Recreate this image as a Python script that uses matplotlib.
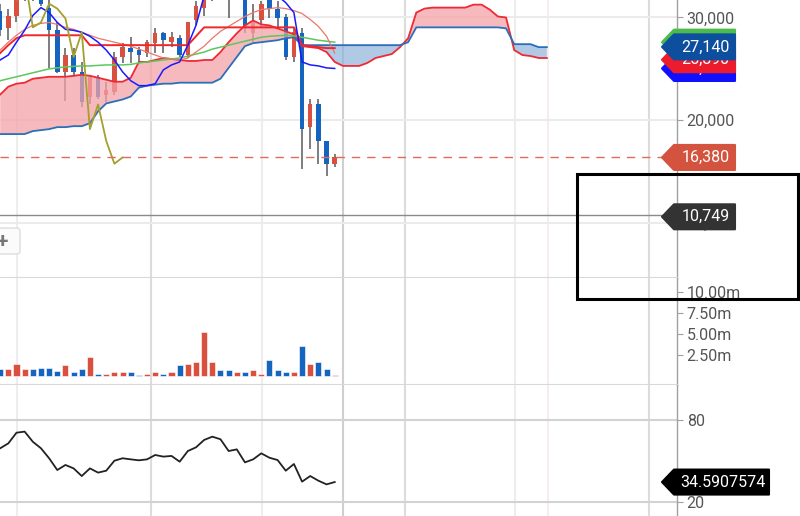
import numpy as np
import matplotlib
matplotlib.use('Agg')
import matplotlib.pyplot as plt
from matplotlib.patches import Polygon, Rectangle, FancyBboxPatch
from matplotlib.transforms import IdentityTransform

plt.rcParams['font.family'] = ['Roboto', 'DejaVu Sans']

# ---- candles (daily) ----
opens = [30673, 28943, 30193, 31923, 33558, 32404, 30962, 28750, 24712, 26347,
         24712, 22308, 24231, 22501, 22789, 26154, 27020, 26827, 26539, 27501,
         28462, 27597, 27981, 26347, 29712, 30962, 32116, 33558, 32789, 32597,
         31923, 28462, 29712, 32116, 30866, 30000, 26154, 28462, 19328, 21539,
         17982, 15770]
highs = [31347, 30866, 32404, 33558, 34039, 33077, 32116, 29520, 27020, 27020,
         25674, 24424, 24424, 23751, 26635, 27501, 28077, 27116, 27789, 28943,
         28558, 28558, 28270, 29520, 31635, 32404, 34039, 34039, 33077, 34328,
         32116, 31347, 31635, 32404, 31635, 30385, 28943, 28943, 22020, 22020,
         17982, 16732]
lows = [28174, 27789, 29520, 31635, 31635, 31154, 25097, 24616, 21828, 24231,
        21251, 21539, 22020, 21732, 22501, 25578, 25578, 25674, 26154, 26539,
        26539, 27116, 26154, 26058, 29231, 30193, 31635, 31923, 29904, 32116,
        28462, 27597, 29039, 29904, 28943, 25866, 25674, 15289, 17212, 15770,
        14616, 15482]
closes = [28750, 30193, 32116, 33077, 32116, 31347, 28750, 24712, 26347, 24712,
          21732, 24231, 22308, 22981, 26154, 27116, 26635, 26347, 27597, 28462,
          27789, 28077, 26347, 29520, 31154, 32116, 33558, 32404, 31731, 34039,
          29039, 29520, 31347, 30866, 29904, 26154, 28558, 19135, 21539, 17982,
          15770, 16380]
volume = [0.87, 0.87, 1.43, 0.87, 0.87, 1.0, 1.0, 0.63, 1.27, 0.48,
          0.87, 2.22, 0.24, 0.24, 0.44, 0.44, 0.44, 0.08, 0.24, 0.44,
          0.24, 0.44, 1.27, 1.43, 1.67, 5.2, 1.67, 0.67, 0.67, 0.44,
          0.44, 0.67, 0.24, 1.87, 0.67, 0.44, 0.44, 3.6, 1.43, 1.67,
          0.87, 0.08]  # millions

# ---- indicators ----
tenkan = [25866, 26347, 27597, 28750, 30193, 30962, 30481, 29520, 28847, 28750,
          28558, 28174, 27597, 26827, 25866, 24712, 23847, 23366, 23366, 23558,
          24904, 25385, 25674, 27308, 29231, 32116, 33077, 33558, 33558, 33558,
          33558, 33077, 33077, 32597, 32116, 31443, 30481, 25674, 25385, 25289,
          25097, 25040]
kijun = [26539, 27308, 27981] + [28270] * 8 + [27308] * 13 + [28174] + [29039] * 12 + \
        [27308, 27212, 27116, 27020, 27020]
ma_short = [26827, 27597, 28270, 28847, 29231, 29424, 29520, 29327, 29039, 28847,
            28558, 28270, 27981, 27789, 27597, 27404, 27212, 26924, 26635, 26347,
            26058, 25962, 25866, 26058, 26635, 27212, 27981, 28654, 29135, 29616,
            30097, 30481, 30770, 30866, 30962, 30866, 30673, 30385, 29808, 29135,
            28174, 26539]
ma_long = [23847, 24039, 24231, 24424, 24616, 24808, 25001, 25097, 25193, 25241,
           25289, 25289, 25337, 25385, 25385, 25385, 25433, 25578, 25674, 25770,
           25866, 25962, 26058, 26250, 26443, 26635, 26924, 27116, 27308, 27501,
           27693, 27885, 28077, 28174, 28222, 28270, 28222, 28077, 27933, 27789,
           27693, 27597]
span_a = [22501, 23270, 23558, 23655, 24039, 24135, 24231, 24231, 24231, 24328,
          24424, 24328, 24135, 23943, 23751, 23751, 24135, 25674, 25674, 25866,
          26058, 25962, 25866, 25770, 25770, 25866, 25866, 26635, 27597, 28462,
          29231, 29712, 29327, 29231, 28943, 28654, 28366, 27212, 27116, 27020,
          26635, 25674, 25289, 25289, 25289, 25578, 26058, 26251, 26443, 27116,
          27981, 30481, 30866, 30962, 30962, 30962, 30962, 30962, 31250, 31250,
          30770, 30097, 30000, 26827, 26347, 26251, 26058, 26058]
span_b = [18655] * 4 + [18943, 19039, 19135, 19328, 19328, 19424, 19424, 19712,
          20866, 21635, 21828, 22020, 22308, 23174, 23366, 23462, 23558, 23558] + \
         [23655] * 5 + [24039, 25097, 26154, 27212, 27501, 27597, 27693, 27789,
          27981, 28077] + [27308] * 13 + [27597] + [29039] * 11 + [28943] + \
         [27404] * 3 + [27116] * 2
osc = [59.3, 62.9, 70.7, 71.5, 64.1, 59.3, 52.0, 43.4, 47.1, 44.6,
       39.0, 44.6, 41.5, 42.9, 50.2, 52.0, 51.2, 50.5, 51.2, 54.4,
       53.2, 53.7, 49.5, 57.3, 60.0, 65.4, 67.8, 65.9, 57.3, 58.5,
       49.0, 51.2, 55.6, 52.4, 50.7, 42.9, 47.8, 34.9, 39.0, 35.6,
       32.9, 34.5907574]
shift = 26
cross_price = 10749

# right-edge tags: (value, text, colour) in drawing order
tag_vals = [27600, 25040, 25890, 27140]
tag_text = ['27,600', '25,040', '25,890', '27,140']
tag_cols = ['#4cbb4c', '#1010ff', '#ec1c2c', '#0d4f9e']

price_ticks = [10000, 20000, 30000]
vol_ticks = [2.5, 5.0, 7.5, 10.0]
osc_ticks = [20, 80]
# date grid positions (bar units) and their shade
vgrid = [2.07, 18.49, 32.09, 42.02, 49.62, 63.1, 67.14, 79.52]
vgrid_c = ['#ededed', '#dcdcdc', '#ededed', '#cfcfcf', '#dcdcdc', '#ededed', '#f4eeee', '#dcdcdc']

RED = '#d9503f'
BLUE = '#1565c0'
W, H = 800, 516
AXR = 677

fig = plt.figure(figsize=(W / 100, H / 100), dpi=100)
ax1 = fig.add_axes([0, (H - 278) / H, AXR / W, 278 / H])
ax2 = fig.add_axes([0, 131 / H, AXR / W, 107 / H])
ax3 = fig.add_axes([0, 0, AXR / W, 131 / H])

x = np.arange(len(closes))
o = np.array(opens); c = np.array(closes)
up = c >= o
cols = np.where(up, RED, BLUE)

# candles
ax1.vlines(x, lows, highs, color='#5a5a5a', lw=1.1, zorder=2)
ax1.bar(x, np.abs(c - o), bottom=np.minimum(o, c), width=0.55, color=cols, zorder=2.5)

# cloud
xc = np.arange(len(span_a))
sa = np.array(span_a); sb = np.array(span_b)
ax1.fill_between(xc, sa, sb, where=sa >= sb, interpolate=True, color='#f4a3a8', alpha=0.75, lw=0, zorder=3)
ax1.fill_between(xc, sa, sb, where=sa < sb, interpolate=True, color='#8fb3d9', alpha=0.7, lw=0, zorder=3)
ax1.plot(xc, sa, color='#ee2a35', lw=1.3, zorder=4)
ax1.plot(xc, sb, color='#2a6fb8', lw=1.3, zorder=4)

ax1.plot(x, ma_long, color='#5cc85c', lw=1.1, zorder=5)
ax1.plot(x, ma_short, color='#e8786a', lw=0.9, zorder=5)
ax1.plot(x, kijun, color='#f0262b', lw=1.4, zorder=5)
ax1.plot(x, tenkan, color='#1a1aff', lw=1.1, zorder=5)
ax1.plot(x - shift, closes, color='#a3a02c', lw=1.3, zorder=5)

ax1.axhline(closes[-1], xmax=662 / AXR, color='#e06a5c', lw=1, ls=(0, (6, 5)), zorder=6)
ax1.axhline(cross_price, xmax=663 / AXR, color='#8a8a8a', lw=1, zorder=6)

# volume
ax2.bar(x, volume, width=0.74, color=cols, edgecolor='white', lw=0.4, zorder=3)

# oscillator
ax3.plot(x, osc, color='#222222', lw=1.3, zorder=3)

xlim = (-0.02, 82.95)
for ax in (ax1, ax2, ax3):
    ax.set_xlim(*xlim)
    for v, vc in zip(vgrid, vgrid_c):
        ax.axvline(v, color=vc, lw=1.5, zorder=0)
    ax.set_facecolor('white')
    for s in ('left', 'top', 'bottom'):
        ax.spines[s].set_visible(False)
    ax.spines['right'].set_color('#a0a0a0')
    ax.spines['right'].set_linewidth(1)
    ax.yaxis.tick_right()
    ax.tick_params(axis='x', bottom=False, labelbottom=False)
    ax.tick_params(axis='y', length=4, width=0.8, color='#a0a0a0', labelcolor='#555555',
                   labelsize=11.5, pad=3)

ax1.set_ylim(4647, 31703)
ax1.set_yticks(price_ticks)
ax1.set_yticklabels([f'{t:,}' for t in price_ticks])
for t in price_ticks:
    ax1.axhline(t, color='#ebebeb', lw=1.5, zorder=0)
ax1.spines['bottom'].set_visible(True)
ax1.spines['bottom'].set_color('#d8d8d8')
ax1.spines['bottom'].set_linewidth(1.5)

ax2.set_ylim(-1.07, 11.67)
ax2.set_yticks(vol_ticks)
ax2.set_yticklabels([f'{t:.2f}m' for t in vol_ticks])
ax2.spines['bottom'].set_visible(True)
ax2.spines['bottom'].set_color('#d8d8d8')
ax2.spines['bottom'].set_linewidth(1.5)

ax3.set_ylim(9.76, 105.6)
ax3.set_yticks(osc_ticks)
ax3.set_yticklabels([str(t) for t in osc_ticks])
for t in osc_ticks:
    ax3.axhline(t, color='#d2d2d2', lw=1.5, zorder=0)

ID = IdentityTransform()
z = [20]


def tag(ax, val, text, color, right=735, h=25, dy=0):
    yd = ax.transData.transform((0, val))[1] + dy
    left = 662
    pts = [(left, yd), (left + 12, yd + h / 2), (right, yd + h / 2),
           (right, yd - h / 2), (left + 12, yd - h / 2)]
    fig.add_artist(Polygon(pts, closed=True, fc=color, ec=color, lw=1.5,
                           joinstyle='round', transform=ID, zorder=z[0]))
    fig.text((left + 12 + right) / 2 + 1, yd, text, color='white', fontsize=11.5,
             ha='center', va='center', transform=ID, zorder=z[0] + 1)
    z[0] += 2


for v, t, col in zip(tag_vals, tag_text, tag_cols):
    tag(ax1, v, t, col)
tag(ax1, closes[-1], f'{closes[-1]:,}', '#d4533f')
tag(ax1, cross_price, f'{cross_price:,}', '#333333', dy=-1.5)
tag(ax3, osc[-1], f'{osc[-1]}', '#000000', right=769)

# "+" button at the left edge of the price pane
fig.add_artist(FancyBboxPatch((-8, 262), 28, 26, boxstyle='round,pad=0,rounding_size=3',
                              fc='#fbfbfb', ec='#dddddd', lw=1, transform=ID, zorder=15))
fig.text(2, 275, '+', color='#777777', fontsize=15, fontweight='bold', ha='center',
         va='center', transform=ID, zorder=16)

# highlight box
fig.add_artist(Rectangle((577, 217), 221, 125, fill=False, ec='black', lw=2.2,
                         transform=ID, zorder=50))

fig.savefig('out.png', dpi=100)
